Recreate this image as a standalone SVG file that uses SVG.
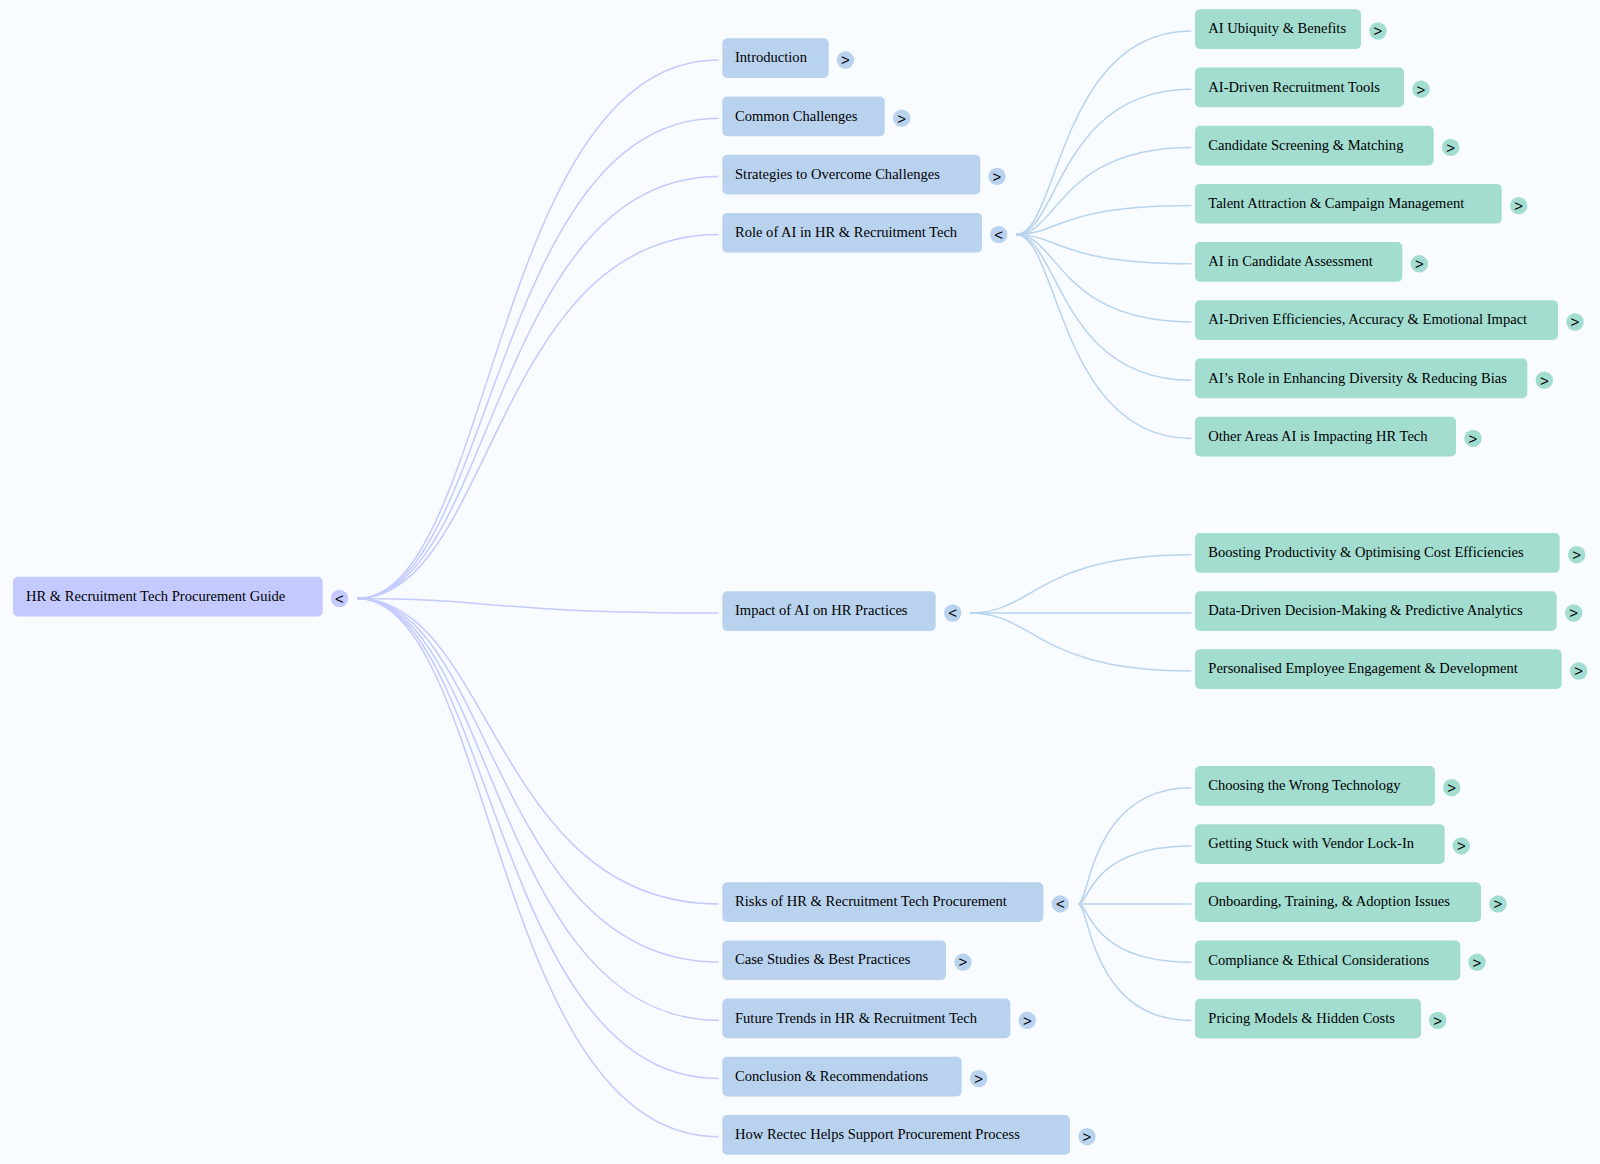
<svg xmlns="http://www.w3.org/2000/svg" width="1600" height="1164" viewBox="0 0 1600 1164">
<style>
.t{font-family:"Liberation Serif","Times New Roman",serif;font-size:14.55px;fill:#000}
.c{font-family:"Liberation Sans",Arial,sans-serif;font-size:15px;text-anchor:middle;transform:translateY(.7px)}
path{fill:none;stroke-width:1.5}
.lr{stroke:#c4caff}
.l2{stroke:#b9d3ef}
.r{fill:#c4caff}
.b{fill:#b9d3ef}
.g{fill:#a2ddd0}
</style>
<rect width="1600" height="1164" fill="#f8fbff"/>
<g id="connectors">
<path class="lr" d="M357 598.5C492.7 598.5 492.7 60 718.5 60"/>
<path class="lr" d="M357 598.5C492.7 598.5 492.7 118.2 718.5 118.2"/>
<path class="lr" d="M357 598.5C492.7 598.5 492.7 176.4 718.5 176.4"/>
<path class="lr" d="M357 598.5C492.7 598.5 492.7 234.6 718.5 234.6"/>
<path class="lr" d="M357 598.5C492.7 598.5 492.7 613 718.5 613"/>
<path class="lr" d="M357 598.5C492.7 598.5 492.7 903.9 718.5 903.9"/>
<path class="lr" d="M357 598.5C492.7 598.5 492.7 962.1 718.5 962.1"/>
<path class="lr" d="M357 598.5C492.7 598.5 492.7 1020.3 718.5 1020.3"/>
<path class="lr" d="M357 598.5C492.7 598.5 492.7 1078.5 718.5 1078.5"/>
<path class="lr" d="M357 598.5C492.7 598.5 492.7 1136.7 718.5 1136.7"/>
<path class="l2" d="M1016 234.6C1058.6 234.6 1058.6 31 1191.3 31"/>
<path class="l2" d="M1016 234.6C1058.6 234.6 1058.6 89.2 1191.3 89.2"/>
<path class="l2" d="M1016 234.6C1058.6 234.6 1058.6 147.4 1191.3 147.4"/>
<path class="l2" d="M1016 234.6C1058.6 234.6 1058.6 205.6 1191.3 205.6"/>
<path class="l2" d="M1016 234.6C1058.6 234.6 1058.6 263.8 1191.3 263.8"/>
<path class="l2" d="M1016 234.6C1058.6 234.6 1058.6 322 1191.3 322"/>
<path class="l2" d="M1016 234.6C1058.6 234.6 1058.6 380.2 1191.3 380.2"/>
<path class="l2" d="M1016 234.6C1058.6 234.6 1058.6 438.4 1191.3 438.4"/>
<path class="l2" d="M970 613C1035.6 613 1035.6 554.7 1191.3 554.7"/>
<path class="l2" d="M970 613H1191.3"/>
<path class="l2" d="M970 613C1035.6 613 1035.6 671 1191.3 671"/>
<path class="l2" d="M1078.3 903.9C1089.8 903.9 1089.8 787.7 1191.3 787.7"/>
<path class="l2" d="M1078.3 903.9C1089.8 903.9 1089.8 845.9 1191.3 845.9"/>
<path class="l2" d="M1078.3 903.9H1191.3"/>
<path class="l2" d="M1078.3 903.9C1089.8 903.9 1089.8 962.2 1191.3 962.2"/>
<path class="l2" d="M1078.3 903.9C1089.8 903.9 1089.8 1020.4 1191.3 1020.4"/>
</g>
<g id="root"><rect class="r" x="13" y="576.8" width="309.7" height="39.7" rx="5"/><text class="t" x="26" y="600.8">HR &amp; Recruitment Tech Procurement Guide</text><circle class="r" cx="339.5" cy="598.5" r="8.7"/><text class="t c" x="339.5" y="603.2">&lt;</text></g>
<g id="n-introduction"><rect class="b" x="722.3" y="38.3" width="106.4" height="39.7" rx="5"/><text class="t" x="735" y="62.3">Introduction</text><circle class="b" cx="845.5" cy="60" r="8.7"/><text class="t c" x="845.5" y="64.7">&gt;</text></g>
<g id="n-common"><rect class="b" x="722.3" y="96.5" width="162.4" height="39.7" rx="5"/><text class="t" x="735" y="120.5">Common Challenges</text><circle class="b" cx="901.7" cy="118.2" r="8.7"/><text class="t c" x="901.7" y="122.9">&gt;</text></g>
<g id="n-strategies"><rect class="b" x="722.3" y="154.7" width="258" height="39.7" rx="5"/><text class="t" x="735" y="178.7">Strategies to Overcome Challenges</text><circle class="b" cx="997" cy="176.4" r="8.7"/><text class="t c" x="997" y="181.1">&gt;</text></g>
<g id="n-role"><rect class="b" x="722.3" y="212.9" width="259.7" height="39.7" rx="5"/><text class="t" x="735" y="236.9">Role of AI in HR &amp; Recruitment Tech</text><circle class="b" cx="998.7" cy="234.6" r="8.7"/><text class="t c" x="998.7" y="239.3">&lt;</text></g>
<g id="n-impact"><rect class="b" x="722.3" y="591.3" width="213.4" height="39.7" rx="5"/><text class="t" x="735" y="615.3">Impact of AI on HR Practices</text><circle class="b" cx="952.7" cy="613" r="8.7"/><text class="t c" x="952.7" y="617.7">&lt;</text></g>
<g id="n-risks"><rect class="b" x="722.3" y="882.2" width="321" height="39.7" rx="5"/><text class="t" x="735" y="906.2">Risks of HR &amp; Recruitment Tech Procurement</text><circle class="b" cx="1060.3" cy="903.9" r="8.7"/><text class="t c" x="1060.3" y="908.6">&lt;</text></g>
<g id="n-case"><rect class="b" x="722.3" y="940.4" width="223.7" height="39.7" rx="5"/><text class="t" x="735" y="964.4">Case Studies &amp; Best Practices</text><circle class="b" cx="963" cy="962.1" r="8.7"/><text class="t c" x="963" y="966.8">&gt;</text></g>
<g id="n-future"><rect class="b" x="722.3" y="998.6" width="288" height="39.7" rx="5"/><text class="t" x="735" y="1022.6">Future Trends in HR &amp; Recruitment Tech</text><circle class="b" cx="1027.3" cy="1020.3" r="8.7"/><text class="t c" x="1027.3" y="1025">&gt;</text></g>
<g id="n-conclusion"><rect class="b" x="722.3" y="1056.8" width="239.4" height="39.7" rx="5"/><text class="t" x="735" y="1080.8">Conclusion &amp; Recommendations</text><circle class="b" cx="978.7" cy="1078.5" r="8.7"/><text class="t c" x="978.7" y="1083.2">&gt;</text></g>
<g id="n-how"><rect class="b" x="722.3" y="1115" width="347.7" height="39.7" rx="5"/><text class="t" x="735" y="1139">How Rectec Helps Support Procurement Process</text><circle class="b" cx="1087" cy="1136.7" r="8.7"/><text class="t c" x="1087" y="1141.4">&gt;</text></g>
<g id="l-ubiquity"><rect class="g" x="1195" y="9.3" width="166" height="39.7" rx="5"/><text class="t" x="1208.3" y="33.3">AI Ubiquity &amp; Benefits</text><circle class="g" cx="1378" cy="31" r="8.7"/><text class="t c" x="1378" y="35.7">&gt;</text></g>
<g id="l-tools"><rect class="g" x="1195" y="67.5" width="209" height="39.7" rx="5"/><text class="t" x="1208.3" y="91.5">AI-Driven Recruitment Tools</text><circle class="g" cx="1421" cy="89.2" r="8.7"/><text class="t c" x="1421" y="93.9">&gt;</text></g>
<g id="l-screening"><rect class="g" x="1195" y="125.7" width="238.7" height="39.7" rx="5"/><text class="t" x="1208.3" y="149.7">Candidate Screening &amp; Matching</text><circle class="g" cx="1450.7" cy="147.4" r="8.7"/><text class="t c" x="1450.7" y="152.1">&gt;</text></g>
<g id="l-talent"><rect class="g" x="1195" y="183.9" width="306.7" height="39.7" rx="5"/><text class="t" x="1208.3" y="207.9">Talent Attraction &amp; Campaign Management</text><circle class="g" cx="1518.7" cy="205.6" r="8.7"/><text class="t c" x="1518.7" y="210.3">&gt;</text></g>
<g id="l-assessment"><rect class="g" x="1195" y="242.1" width="207.3" height="39.7" rx="5"/><text class="t" x="1208.3" y="266.1">AI in Candidate Assessment</text><circle class="g" cx="1419.3" cy="263.8" r="8.7"/><text class="t c" x="1419.3" y="268.5">&gt;</text></g>
<g id="l-efficiencies"><rect class="g" x="1195" y="300.3" width="363" height="39.7" rx="5"/><text class="t" x="1208.3" y="324.3">AI-Driven Efficiencies, Accuracy &amp; Emotional Impact</text><circle class="g" cx="1575" cy="322" r="8.7"/><text class="t c" x="1575" y="326.7">&gt;</text></g>
<g id="l-diversity"><rect class="g" x="1195" y="358.5" width="332.3" height="39.7" rx="5"/><text class="t" x="1208.3" y="382.5">AI’s Role in Enhancing Diversity &amp; Reducing Bias</text><circle class="g" cx="1544.3" cy="380.2" r="8.7"/><text class="t c" x="1544.3" y="384.9">&gt;</text></g>
<g id="l-other"><rect class="g" x="1195" y="416.7" width="261" height="39.7" rx="5"/><text class="t" x="1208.3" y="440.7">Other Areas AI is Impacting HR Tech</text><circle class="g" cx="1473" cy="438.4" r="8.7"/><text class="t c" x="1473" y="443.1">&gt;</text></g>
<g id="l-boosting"><rect class="g" x="1195" y="533" width="364.7" height="39.7" rx="5"/><text class="t" x="1208.3" y="557">Boosting Productivity &amp; Optimising Cost Efficiencies</text><circle class="g" cx="1576.7" cy="554.7" r="8.7"/><text class="t c" x="1576.7" y="559.4">&gt;</text></g>
<g id="l-data"><rect class="g" x="1195" y="591.2" width="361.7" height="39.7" rx="5"/><text class="t" x="1208.3" y="615.2">Data-Driven Decision-Making &amp; Predictive Analytics</text><circle class="g" cx="1573.7" cy="613" r="8.7"/><text class="t c" x="1573.7" y="617.7">&gt;</text></g>
<g id="l-personalised"><rect class="g" x="1195" y="649.3" width="366.7" height="39.7" rx="5"/><text class="t" x="1208.3" y="673.3">Personalised Employee Engagement &amp; Development</text><circle class="g" cx="1578.7" cy="671" r="8.7"/><text class="t c" x="1578.7" y="675.7">&gt;</text></g>
<g id="l-choosing"><rect class="g" x="1195" y="766" width="240" height="39.7" rx="5"/><text class="t" x="1208.3" y="790">Choosing the Wrong Technology</text><circle class="g" cx="1451.7" cy="787.7" r="8.7"/><text class="t c" x="1451.7" y="792.4">&gt;</text></g>
<g id="l-lockin"><rect class="g" x="1195" y="824.2" width="249.7" height="39.7" rx="5"/><text class="t" x="1208.3" y="848.2">Getting Stuck with Vendor Lock-In</text><circle class="g" cx="1461.3" cy="845.9" r="8.7"/><text class="t c" x="1461.3" y="850.6">&gt;</text></g>
<g id="l-onboarding"><rect class="g" x="1195" y="882.2" width="286" height="39.7" rx="5"/><text class="t" x="1208.3" y="906.2">Onboarding, Training, &amp; Adoption Issues</text><circle class="g" cx="1498" cy="903.9" r="8.7"/><text class="t c" x="1498" y="908.6">&gt;</text></g>
<g id="l-compliance"><rect class="g" x="1195" y="940.5" width="265.3" height="39.7" rx="5"/><text class="t" x="1208.3" y="964.5">Compliance &amp; Ethical Considerations</text><circle class="g" cx="1477" cy="962.2" r="8.7"/><text class="t c" x="1477" y="966.9">&gt;</text></g>
<g id="l-pricing"><rect class="g" x="1195" y="998.7" width="226" height="39.7" rx="5"/><text class="t" x="1208.3" y="1022.7">Pricing Models &amp; Hidden Costs</text><circle class="g" cx="1437.7" cy="1020.4" r="8.7"/><text class="t c" x="1437.7" y="1025.1">&gt;</text></g>
</svg>
